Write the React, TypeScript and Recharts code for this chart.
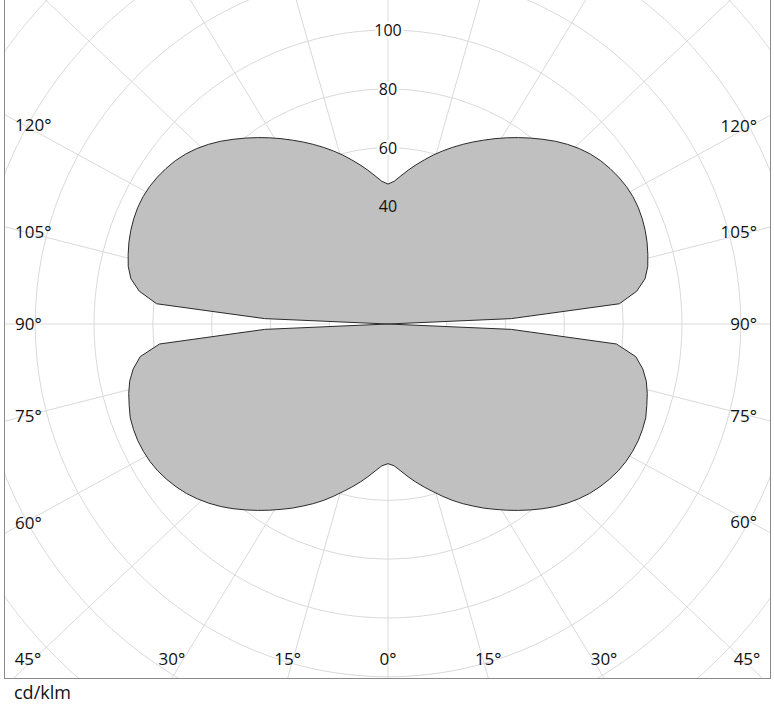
import { RadarChart, Radar, PolarGrid, PolarAngleAxis, PolarRadiusAxis } from 'recharts';

// gamma (deg from nadir) every 2.5 deg, 0..180
const GAMMA = Array.from({ length: 73 }, (_, i) => i * 2.5);

// cd/klm; C0 and C180 halves look identical
const INTENSITY = [
  47.5, 48.3, 50.2, 52.4, 54.6, 56.8, 59.0, 61.4, 63.8, 66.1,
  68.3, 70.6, 72.8, 75.1, 77.4, 79.7, 82.0, 84.2, 86.2, 88.0,
  89.6, 90.9, 92.0, 92.9, 93.5, 93.8, 93.9, 93.7, 93.3, 92.3,
  91.3, 90.0, 88.0, 85.0, 78.0, 42.0, 0,
  42.0, 79.0, 85.3, 88.8, 90.5, 91.5, 92.4, 93.1, 93.6, 93.9,
  93.9, 93.6, 93.0, 92.2, 91.2, 89.9, 88.3, 86.4, 84.3, 82.0,
  79.7, 77.4, 75.1, 72.8, 70.5, 68.3, 66.1, 63.9, 61.7, 59.5,
  57.2, 55.0, 52.8, 50.6, 48.6, 47.6,
];

const ANGLE_LABELS = [0, 15, 30, 45, 60, 75, 90, 105, 120, 135, 150, 165, 180];
const RADIUS_LABELS = [40, 60, 80, 100];

const FILL = '#c0c0c0';
const FONT = '"Open Sans", "Noto Sans", sans-serif';

// chart box sits inside the frame border
const W = 765;
const H = 707;
const CX = 383;
const CY = 353;
const PX_PER_UNIT = 2.94;
const STRETCH = 1.057; // radial grid lines in the original lean slightly outwards

// right half is C0 (theta = gamma), left half is C180 (theta = 360 - gamma)
const data = [
  ...GAMMA.map((g, i) => ({ theta: g, value: INTENSITY[i] })),
  ...GAMMA.slice(1, -1)
    .map((g, i) => ({ theta: 360 - g, value: INTENSITY[i + 1] }))
    .reverse(),
];

const LABEL_THETAS = [...ANGLE_LABELS, ...ANGLE_LABELS.slice(1, -1).map((g) => 360 - g)];

const toDeg = (r: number) => (r * 180) / Math.PI;
const gridAngle = (a: number) => {
  const r = (a * Math.PI) / 180;
  return toDeg(Math.atan2(Math.sin(r), Math.cos(r) * STRETCH));
};
const GRID_ANGLES = [
  ...ANGLE_LABELS.map((g) => gridAngle(-90 + g)),
  ...ANGLE_LABELS.slice(1, -1).map((g) => gridAngle(-90 - g)),
];

const AngleTick = (props: any) => {
  const raw = props.payload?.value;
  const theta = Number(typeof raw === 'object' && raw !== null ? raw.value : raw);
  if (!Number.isFinite(theta)) return null;
  const gamma = theta <= 180 ? theta : 360 - theta;
  if (gamma % 15 !== 0) return null;
  const dx = (props.x - CX) * STRETCH;
  const dy = props.y - CY;
  const len = Math.hypot(dx, dy) || 1;
  const ux = dx / len;
  const uy = dy / len;
  const tx = ux > 1e-9 ? (W - CX) / ux : ux < -1e-9 ? -CX / ux : Infinity;
  const ty = uy > 1e-9 ? (H - CY) / uy : uy < -1e-9 ? -CY / uy : Infinity;
  let x: number;
  let y: number;
  let anchor: 'start' | 'middle' | 'end';
  if (ty <= tx) {
    if (uy < 0) return null;
    x = Math.min(Math.max(CX + ty * ux, 23), W - 23);
    y = H - 19;
    anchor = 'middle';
  } else {
    y = CY + tx * uy * 0.95;
    if (y < 20) return null;
    if (ux < 0) {
      x = 10;
      anchor = 'start';
    } else {
      x = W - 13;
      anchor = 'end';
    }
  }
  return (
    <text x={x} y={y + 6} textAnchor={anchor} fontSize={17} fontFamily={FONT} fill="#111">
      {`${gamma}°`}
    </text>
  );
};

const RadiusTick = (props: any) => {
  const v = Number(props.payload?.value);
  if (!RADIUS_LABELS.includes(v)) return null;
  return (
    <text
      x={props.x}
      y={props.y + 6}
      textAnchor="middle"
      fontSize={16}
      fontFamily={FONT}
      fill="#111"
      stroke={v <= 40 ? FILL : '#fff'}
      strokeWidth={5}
      paintOrder="stroke"
    >
      {v}
    </text>
  );
};

export default function App() {
  return (
    <div style={{ position: 'absolute', left: 0, top: 0, width: 774, height: 705, overflow: 'hidden', background: '#fff' }}>
      <div
        style={{
          position: 'absolute',
          left: 4,
          top: -30,
          width: W + 2,
          height: H + 2,
          border: '1px solid #8a8a8a',
          boxSizing: 'border-box',
          overflow: 'hidden',
        }}
      >
        <RadarChart
          width={W}
          height={H}
          data={data}
          cx={CX}
          cy={CY}
          innerRadius={20 * PX_PER_UNIT}
          outerRadius={240 * PX_PER_UNIT}
          startAngle={-90}
          endAngle={270}
          margin={{ top: 0, right: 0, bottom: 0, left: 0 }}
        >
          <Radar dataKey="value" fill={FILL} fillOpacity={1} stroke="none" isAnimationActive={false} />
          <PolarGrid gridType="circle" stroke="#dadada" strokeWidth={1} polarAngles={GRID_ANGLES} />
          <Radar dataKey="value" fill="none" fillOpacity={0} stroke="#2a2a2a" strokeWidth={1} isAnimationActive={false} />
          <PolarAngleAxis
            dataKey="theta"
            type="number"
            domain={[0, 360]}
            ticks={LABEL_THETAS}
            axisLine={false}
            tickLine={false}
            tick={AngleTick}
          />
          <PolarRadiusAxis
            angle={90}
            type="number"
            domain={[20, 240]}
            allowDataOverflow
            tickCount={12}
            axisLine={false}
            tick={RadiusTick}
          />
        </RadarChart>
      </div>
      <div style={{ position: 'absolute', left: 14, top: 683, height: 18, fontFamily: FONT, fontSize: 18, lineHeight: '18px', color: '#111' }}>
        cd/klm
      </div>
    </div>
  );
}
